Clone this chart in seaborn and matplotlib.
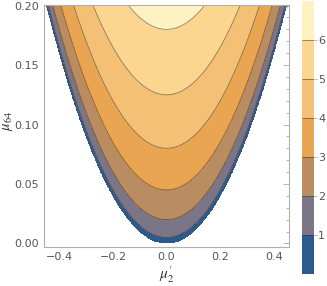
import matplotlib
matplotlib.use('Agg')
import matplotlib.pyplot as plt
import numpy as np
import seaborn as sns
from matplotlib.ticker import MultipleLocator

# contour levels and fill colours (bottom -> top)
levels = [0, 1, 2, 3, 4, 5, 6, 6.33]
fill_colors = ['#2b5a8e', '#7b7588', '#b98c62', '#e9a551', '#f3c076', '#fcd590', '#fef2c2']
cbar_ticks = [1, 2, 3, 4, 5, 6]
x_ticks = [-0.4, -0.2, 0.0, 0.2, 0.4]
y_ticks = [0.00, 0.05, 0.10, 0.15, 0.20]

# mu64 scale of the surface f = sqrt(scale * (mu64 - mu2'^2))
scale = 200.0
mu2 = np.linspace(-0.46, 0.46, 600)
mu64 = np.linspace(0.0, 0.2, 500)
X, Y = np.meshgrid(mu2, mu64)
arg = scale * (Y - X ** 2)
Z = np.where(arg >= 0, np.sqrt(np.clip(arg, 0, None)), np.nan)

sns.set_style('white')
plt.rcParams['mathtext.fontset'] = 'stix'
plt.rcParams['font.family'] = ['DejaVu Sans']

fig = plt.figure(figsize=(3.27, 2.86), dpi=100)
ax = fig.add_axes([0.1346, 0.1364, 0.7494, 0.8461])
cax = fig.add_axes([0.9235, 0.042, 0.0367, 0.9545])

cf = ax.contourf(X, Y, Z, levels=levels, colors=fill_colors)
cl = ax.contour(X, Y, Z, levels=cbar_ticks, colors=[(0.2, 0.15, 0.1, 0.55)], linewidths=0.6)

ax.set_xlim(-0.457, 0.457)
ax.set_ylim(-0.003, 0.2005)
ax.set_xticks(x_ticks)
ax.set_yticks(y_ticks)
ax.set_xticklabels(['\u22120.4', '\u22120.2', '0.0', '0.2', '0.4'])
ax.set_yticklabels(['0.00', '0.05', '0.10', '0.15', '0.20'])
ax.xaxis.set_minor_locator(MultipleLocator(0.05))
ax.yaxis.set_minor_locator(MultipleLocator(0.01))
ax.tick_params(which='both', direction='in', top=True, right=True, color='#a8a8a8',
               labelcolor='#555555', labelsize=8, width=0.6)
ax.tick_params(which='major', length=4)
ax.tick_params(which='minor', length=2)
for s in ax.spines.values():
    s.set_color('#b0b0b0')
    s.set_linewidth(0.8)

ax.set_xlabel(r"$\mu^{\prime}_{2}$", fontsize=11, color='#333333')
ax.set_ylabel(r'$\mu_{64}$', fontsize=10.5, color='#333333')
ax.xaxis.set_label_coords(0.5, -0.072)
ax.yaxis.set_label_coords(-0.118, 0.52)

cbar = fig.colorbar(cf, cax=cax, ticks=cbar_ticks)
cbar.add_lines(cl)
cbar.outline.set_visible(False)
cax.tick_params(direction='out', length=2, width=0.6, color='#a8a8a8',
                labelcolor='#555555', labelsize=8, pad=1)

fig.savefig('out.png', dpi=100)
